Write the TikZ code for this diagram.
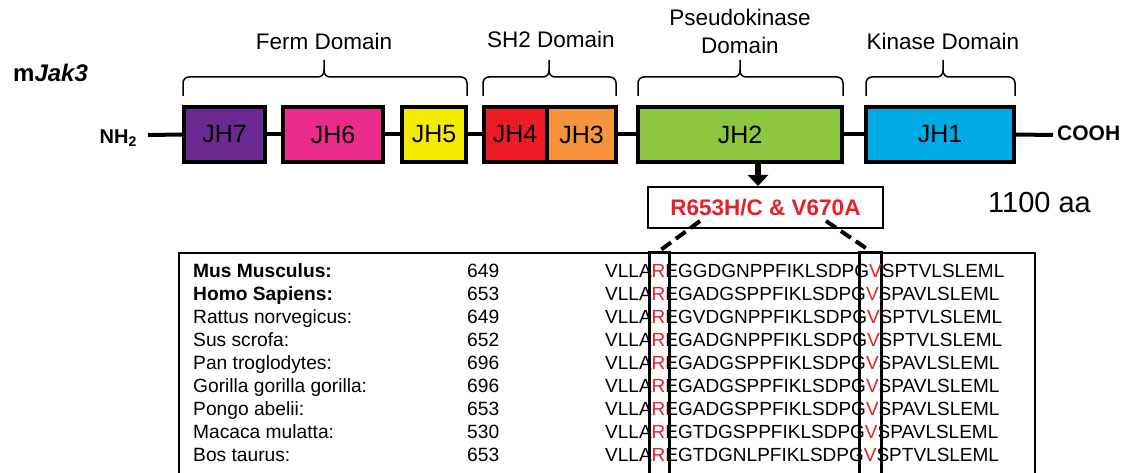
\documentclass[tikz,border=0pt]{standalone}
\usepackage{fontspec}
\setmainfont{Liberation Sans}
\usetikzlibrary{arrows.meta}
\definecolor{cjhseven}{RGB}{106,42,145}
\definecolor{cjhsix}{RGB}{236,44,140}
\definecolor{cjhfive}{RGB}{245,235,0}
\definecolor{cjhfour}{RGB}{237,28,36}
\definecolor{cjhthree}{RGB}{247,148,59}
\definecolor{cjhtwo}{RGB}{141,198,63}
\definecolor{cjhone}{RGB}{0,170,226}
\definecolor{mred}{RGB}{232,30,40}
\tikzset{
  dom/.style={draw=black, line width=4pt, inner sep=0pt, minimum height=55,
    font=\fontsize{25}{30}\selectfont},
  bb/.style={line width=4pt},
  brc/.style={line width=1.5pt, rounded corners=6pt},
  lbl/.style={font=\fontsize{22.5}{27}\selectfont, anchor=base, inner sep=0pt},
  dsh/.style={line width=4pt, dash pattern=on 12pt off 6pt},
  rowtxt/.style={font=\fontsize{19.2}{23}\selectfont, anchor=base west, inner sep=0pt},
  seqtxt/.style={font=\fontsize{19}{23}\selectfont, anchor=base west, inner sep=0pt},
  colbox/.style={draw=black, line width=2.5pt, anchor=north west, inner sep=0pt, minimum height=260}
}
\newcommand\mybrace[3]{%
  \draw[brc] (#1,96) -- (#1,77) -- (#3,77) -- (#3,60);
  \draw[brc] (#2,96) -- (#2,77) -- (#3,77) -- (#3,70);}
\begin{document}
\begin{tikzpicture}[x=1pt,y=-1pt]
\useasboundingbox (0,0) rectangle (1135,473);
\clip (0,0) rectangle (1135,473);
\fill[white] (0,0) rectangle (1135,473);

% title
\node[anchor=base west, inner sep=0pt, font=\bfseries\fontsize{24}{28}\selectfont] (title) at (13,82) {m\textit{Jak3}};

% domain boxes
\node[dom, fill=cjhseven, minimum width=81] (jh7) at (224.5,134.5) {JH7};
\node[dom, fill=cjhsix, minimum width=100] (jh6) at (333,134.5) {JH6};
\node[dom, fill=cjhfive, minimum width=64] (jh5) at (434,134.5) {JH5};
\node[dom, fill=cjhfour, minimum width=63] (jh4) at (515,134.5) {JH4};
\node[dom, fill=cjhthree, minimum width=69] (jh3) at (581.5,134.5) {JH3};
\node[dom, fill=cjhtwo, minimum width=204] (jh2) at (740,134.5) {JH2};
\node[dom, fill=cjhone, minimum width=148] (jh1) at (940,134.5) {JH1};

% backbone
\node[anchor=east, inner sep=0pt, font=\bfseries\fontsize{20}{24}\selectfont] (nh2) at (137,138) {NH\textsubscript{2}};
\node[anchor=west, inner sep=0pt, font=\bfseries\fontsize{21}{24}\selectfont] (cooh) at (1057,133) {COOH};
\coordinate (nstart) at (148,135);
\coordinate (cend) at (1053,135);
\draw[bb] (nstart) -- (jh7.west);
\draw[bb] (jh7.east) -- (jh6.west);
\draw[bb] (jh6.east) -- (jh5.west);
\draw[bb] (jh5.east) -- (jh4.west);
\draw[bb] (jh3.east) -- (jh2.west);
\draw[bb] (jh2.east) -- (jh1.west);
\draw[bb] (jh1.east) -- (cend);

% braces and labels
\mybrace{183}{467}{324}
\mybrace{483}{616}{549}
\mybrace{638}{843}{740}
\mybrace{866}{1015}{943}
\node[lbl] (ferm) at (324,50) {Ferm Domain};
\node[lbl] (sh2) at (551,48) {SH2 Domain};
\node[lbl] (pk1) at (740,26) {Pseudokinase};
\node[lbl] (pk2) at (740,54) {Domain};
\node[lbl] (kin) at (943,50) {Kinase Domain};

% mutation
\node[draw, line width=2pt, minimum width=235, minimum height=41, inner sep=0pt,
  text=mred, font=\bfseries\fontsize{22.5}{26}\selectfont] (mut) at (765.5,207.5) {R653H/C \& V670A};
\draw[line width=5.5pt, -{Triangle[width=20pt,length=11pt]}] (jh2.south -| 758,0) -- (mut.north -| 758,0);
\node[anchor=base west, inner sep=0pt, font=\fontsize{29}{32}\selectfont] (len) at (988,213) {1100 aa};

% alignment
\node[draw, line width=2pt, anchor=north west, inner sep=0pt, minimum width=856, minimum height=260] (aln) at (178,252) {};
\node[colbox, minimum width=20] (rbox) at (648,251) {};
\node[colbox, minimum width=22] (vbox) at (858,251) {};
\coordinate (dl) at (700,221);
\coordinate (dr) at (826,221);
\draw[dsh] (dl) -- (rbox.north);
\draw[dsh] (dr) -- (vbox.north);

\foreach \nm/\num/\sa/\sb [count=\i from 0] in {
  {\textbf{Mus Musculus:}}/649/EGGDGNPPFIKLSDPG/SPTVLSLEML,
  {\textbf{Homo Sapiens:}}/653/EGADGSPPFIKLSDPG/SPAVLSLEML,
  {Rattus norvegicus:}/649/EGVDGNPPFIKLSDPG/SPTVLSLEML,
  {Sus scrofa:}/652/EGADGNPPFIKLSDPG/SPTVLSLEML,
  {Pan troglodytes:}/696/EGADGSPPFIKLSDPG/SPAVLSLEML,
  {Gorilla gorilla gorilla:}/696/EGADGSPPFIKLSDPG/SPAVLSLEML,
  {Pongo abelii:}/653/EGADGSPPFIKLSDPG/SPAVLSLEML,
  {Macaca mulatta:}/530/EGTDGSPPFIKLSDPG/SPAVLSLEML,
  {Bos taurus:}/653/EGTDGNLPFIKLSDPG/SPTVLSLEML}{
  \node[rowtxt] (sp\i) at (193,277.3+23*\i) {\nm};
  \node[rowtxt] (no\i) at (467,277.3+23*\i) {\num};
  \node[seqtxt] (sq\i) at (605,277.3+23*\i) {VLLA\textcolor{mred}{R}\sa\textcolor{mred}{V}\sb};
}
\end{tikzpicture}
\end{document}
